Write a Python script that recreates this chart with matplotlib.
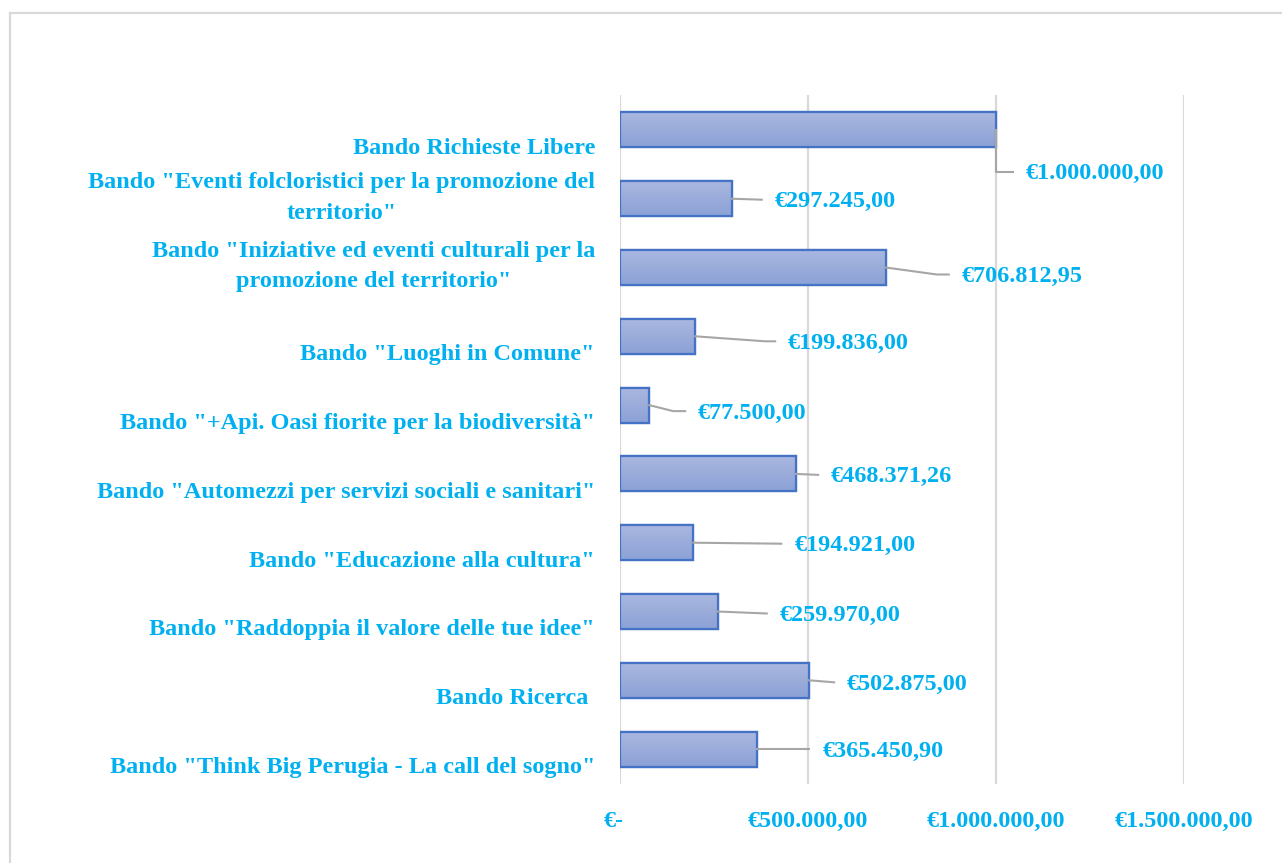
import matplotlib
matplotlib.use("Agg")
import matplotlib.pyplot as plt
import matplotlib.transforms as mtransforms
import numpy as np
from matplotlib.lines import Line2D
from matplotlib.patches import Rectangle
from matplotlib.colors import LinearSegmentedColormap

categories = [
    'Bando Richieste Libere',
    'Bando "Eventi folcloristici per la promozione del\nterritorio"',
    'Bando "Iniziative ed eventi culturali per la\npromozione del territorio"',
    'Bando "Luoghi in Comune"',
    'Bando "+Api. Oasi fiorite per la biodiversità"',
    'Bando "Automezzi per servizi sociali e sanitari"',
    'Bando "Educazione alla cultura"',
    'Bando "Raddoppia il valore delle tue idee"',
    'Bando Ricerca ',
    'Bando "Think Big Perugia - La call del sogno"',
]
values = [1000000.00, 297245.00, 706812.95, 199836.00, 77500.00,
          468371.26, 194921.00, 259970.00, 502875.00, 365450.90]
value_labels = ['€1.000.000,00', '€297.245,00', '€706.812,95', '€199.836,00',
                '€77.500,00', '€468.371,26', '€194.921,00', '€259.970,00',
                '€502.875,00', '€365.450,90']
x_ticks = [0, 500000, 1000000, 1500000]
x_tick_labels = ['€-', '€500.000,00', '€1.000.000,00', '€1.500.000,00']

# label placement offsets in pixels (dx right, dy down) from bar end
label_offsets = [(30, 42), (43, 1), (76, 7), (93, 5), (49, 6),
                 (35, 1), (101, 1), (62, 2), (38, 2), (65, 0)]
# leader-line knee x offsets (pixels) from bar end
leader_knees = [0, 30, 51, 70, 24, 22, 88, 49, 25, 52]

TXT = '#00B0F0'
FONT = 'Liberation Serif'
FS = 17.5

W, H = 1282, 863
fig = plt.figure(figsize=(W / 100, H / 100), dpi=100)
fig.patch.set_facecolor('white')

# chart area border (top and left visible)
fig.add_artist(Line2D([10 / W, 1.0], [1 - 13 / H, 1 - 13 / H], transform=fig.transFigure,
                      color='#d9d9d9', lw=1.6))
fig.add_artist(Line2D([10 / W, 10 / W], [0, 1 - 13 / H], transform=fig.transFigure,
                      color='#d9d9d9', lw=1.6))

left, right, top, bottom = 620, 1184, 95.5, 783.5
ax = fig.add_axes([left / W, 1 - bottom / H, (right - left) / W, (bottom - top) / H])
ax.set_facecolor('none')

n = len(categories)
y = np.arange(n)

for t in x_ticks:
    ax.axvline(t, color='#d9d9d9', lw=1.6, zorder=0)

bh = 0.51
grad = np.linspace(0, 1, 64).reshape(-1, 1)
cmap = LinearSegmentedColormap.from_list('g', ['#aab8e0', '#8ca1d6'])
bars = ax.barh(y, values, height=bh, color='#9cadde', edgecolor='#4472C4', lw=1.6, zorder=2)
for b in bars:
    x0, y0 = b.get_x(), b.get_y()
    w, h = b.get_width(), b.get_height()
    im = ax.imshow(grad, cmap=cmap, aspect='auto', extent=(x0, x0 + w, y0 + h, y0),
                   zorder=2.5, interpolation='bicubic')
    im.set_clip_path(b)
    ax.add_patch(Rectangle((x0, y0), w, h, fill=False, edgecolor='#4472C4', lw=1.6, zorder=3))
ax.set_xlim(0, 1500000)
ax.set_ylim(n - 0.5, -0.5)

for s in ax.spines.values():
    s.set_visible(False)
ax.set_xticks(x_ticks)
ax.set_xticklabels(x_tick_labels, fontfamily=FONT, fontsize=FS, fontweight='bold', color=TXT)
ax.tick_params(axis='x', length=0, pad=20)
ax.set_yticks([])
first = ax.get_xticklabels()[0]
first.set_transform(first.get_transform() +
                    mtransforms.ScaledTranslation(-6 / 100, 0, fig.dpi_scale_trans))

# category labels
for yi, cat in zip(y, categories):
    off = 1 if '\n' in cat else -18.5
    ax.annotate(cat, xy=(0, yi), xycoords=('axes fraction', 'data'),
                xytext=(-25, off), textcoords='offset pixels',
                ha='right', va='center', multialignment='center',
                fontfamily=FONT, fontsize=FS, fontweight='bold', color=TXT,
                linespacing=1.62)

# value labels with leader lines
fig.canvas.draw()
for yi, v, lab, (dx, dy), kx in zip(y, values, value_labels, label_offsets, leader_knees):
    px, py = ax.transData.transform((v, yi))
    pts = [(0, 0), (kx, dy), (dx - 13, dy)]
    xs = [px + a for a, b in pts]
    ys = [py - b for a, b in pts]
    fig.add_artist(Line2D(xs, ys, transform=None, color='#a6a6a6', lw=1.5))
    ax.annotate(lab, xy=(v, yi), xycoords='data', xytext=(dx, -dy - 2),
                textcoords='offset pixels', ha='left', va='center',
                fontfamily=FONT, fontsize=FS, fontweight='bold', color=TXT)

fig.savefig('out.png', dpi=100)
